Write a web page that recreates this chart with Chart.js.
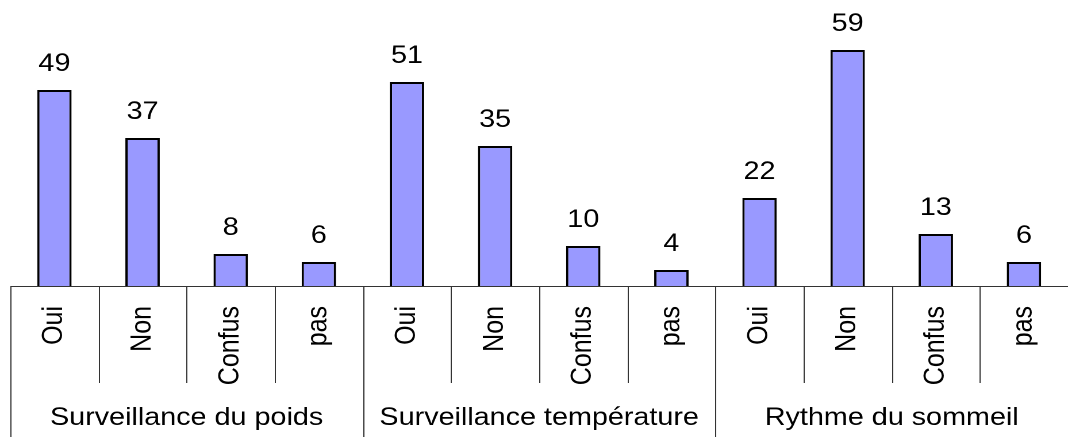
<!DOCTYPE html>
<html>
<head>
<meta charset="utf-8">
<script src="https://cdn.jsdelivr.net/npm/chart.js@4"></script>
<style>
  html, body { margin: 0; padding: 0; background: #fff; overflow: hidden; }
  #wrap { width: 929px; height: 439px; transform: scaleX(1.14962); transform-origin: 0 0; }
</style>
</head>
<body>
<div id="wrap"><canvas id="barchart" width="929" height="439"></canvas></div>
<script>
var categories = ['Oui', 'Non', 'Confus', 'pas', 'Oui', 'Non', 'Confus', 'pas', 'Oui', 'Non', 'Confus', 'pas']
var values = [49, 37, 8, 6, 51, 35, 10, 4, 22, 59, 13, 6]
var groups = ['Surveillance du poids', 'Surveillance température', 'Rythme du sommeil']
var groupSize = 4

var FONT = '"Liberation Sans", Arial, sans-serif'

// value labels + separators + group names
var extras = {
    id: 'extras',
    afterDatasetsDraw: function (chart) {
        var c = chart.ctx
        var meta = chart.getDatasetMeta(0)
        c.save()
        c.fillStyle = '#000'
        c.font = '25px ' + FONT
        c.textAlign = 'center'
        c.textBaseline = 'alphabetic'
        meta.data.forEach(function (bar, i) {
            c.fillText(String(values[i]), bar.x, bar.y - 19)
        })
        c.restore()
    },
    afterDraw: function (chart) {
        var c = chart.ctx
        var x = chart.scales.x
        var area = chart.chartArea
        var half = (x.getPixelForValue(1) - x.getPixelForValue(0)) / 2
        var y0 = area.bottom
        c.save()
        c.strokeStyle = '#333'
        c.lineWidth = 1
        c.beginPath()
        c.moveTo(area.left, y0 + 0.5)
        c.lineTo(area.right, y0 + 0.5)
        for (var i = 0; i < categories.length; i++) {
            var bx = Math.round(x.getPixelForValue(i) - half) + 0.5
            var isGroup = i % groupSize == 0
            c.moveTo(bx, y0)
            c.lineTo(bx, isGroup ? 437 : 383)
        }
        c.stroke()
        c.fillStyle = '#000'
        c.font = '25px ' + FONT
        c.textAlign = 'center'
        c.textBaseline = 'middle'
        groups.forEach(function (g, k) {
            var a = x.getPixelForValue(k * groupSize) - half
            var b = x.getPixelForValue(k * groupSize + groupSize - 1) + half
            c.fillText(g, (a + b) / 2, 418)
        })
        c.restore()
    }
}

var ctx = document.getElementById('barchart').getContext('2d')
var myChart = new Chart(ctx, {
    type: 'bar',
    data: {
        labels: categories,
        datasets: [{
            data: values,
            backgroundColor: '#9999ff',
            borderColor: '#000',
            borderWidth: 2,
            categoryPercentage: 1,
            barPercentage: 0.39
        }]
    },
    options: {
        responsive: false,
        animation: false,
        devicePixelRatio: 2,
        layout: { padding: { left: 9, right: 0, top: 0, bottom: 0 } },
        scales: {
            x: {
                grid: { color: 'rgba(0,0,0,0)', tickLength: 17 },
                border: { display: false },
                ticks: {
                    autoSkip: false,
                    minRotation: 90,
                    maxRotation: 90,
                    padding: 3,
                    color: '#000',
                    font: { family: FONT, size: 25 }
                },
                afterFit: function (scale) { scale.height = 153 }
            },
            y: {
                display: false,
                min: 0,
                max: 71.5
            }
        },
        plugins: {
            legend: { display: false },
            tooltip: { enabled: false }
        }
    },
    plugins: [extras]
})
</script>
</body>
</html>
